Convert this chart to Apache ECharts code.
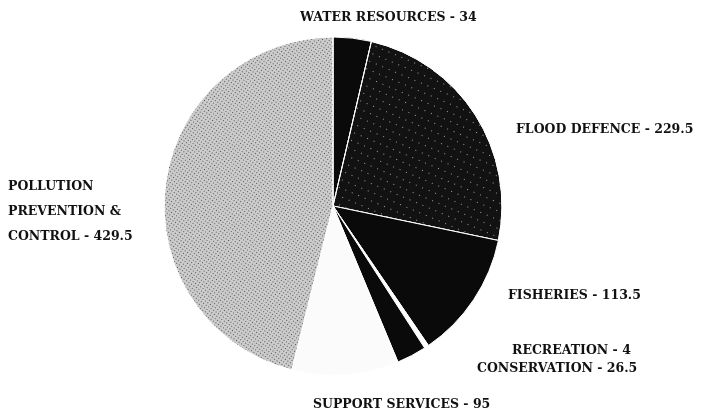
<!DOCTYPE html>
<html>
<head>
<meta charset="utf-8">
<script src="https://cdn.jsdelivr.net/npm/echarts@6/dist/echarts.min.js"></script>
<style>
  html, body { margin: 0; padding: 0; background: #fff; }
  #chart { width: 707px; height: 417px; }
</style>
</head>
<body>
<div id="chart"></div>
<script>
// spending by function, clockwise from 12 o'clock
var categories = ['WATER RESOURCES', 'FLOOD DEFENCE', 'FISHERIES', 'RECREATION', 'CONSERVATION', 'SUPPORT SERVICES', 'POLLUTION\nPREVENTION &\nCONTROL']
var values = [34, 229.5, 113.5, 4, 26.5, 95, 429.5]
var valueLabels = ['34', '229.5', '113.5', '4', '26.5', '95', '429.5']

// where each label sits (left x, middle y, align)
var labelPos = [
  [300, 18, 'left'],
  [516, 130, 'left'],
  [508, 296, 'left'],
  [512, 351, 'left'],
  [477, 369, 'left'],
  [313, 405, 'left'],
  [8, 212, 'left']
]

var fills = [
  { color: '#0a0a0a' },
  { color: '#121212', decal: { symbol: 'circle', symbolSize: 1, dashArrayX: [1, 6], dashArrayY: [1, 7], rotation: 0.4, color: '#d0d0d0' } },
  { color: '#0a0a0a' },
  { color: '#ffffff' },
  { color: '#0a0a0a' },
  { color: '#fbfbfb' },
  { color: '#cccccc', decal: { symbol: 'circle', symbolSize: 1, dashArrayX: [1, 2], dashArrayY: [1, 2], rotation: 0.6, color: '#2a2a2a' } }
]

var chart = echarts.init(document.getElementById('chart'))

chart.setOption({
  backgroundColor: '#fff',
  animation: false,
  series: [{
    type: 'pie',
    center: ['47.1%', '49.4%'],
    radius: 169,
    startAngle: 90,
    clockwise: true,
    avoidLabelOverlap: false,
    itemStyle: {
      borderColor: '#fff',
      borderWidth: 1
    },
    label: {
      show: true,
      position: 'outside',
      fontFamily: 'DejaVu Serif',
      fontWeight: 'bold',
      fontSize: 12.5,
      lineHeight: 25,
      color: '#111',
      formatter: function (p) {
        return p.name + ' - ' + valueLabels[p.dataIndex]
      }
    },
    labelLine: { show: false },
    labelLayout: function (p) {
      var pos = labelPos[p.dataIndex]
      return { x: pos[0], y: pos[1], align: pos[2], verticalAlign: 'middle' }
    },
    data: categories.map(function (name, i) {
      return { name: name, value: values[i], itemStyle: fills[i] }
    })
  }]
})
</script>
</body>
</html>
